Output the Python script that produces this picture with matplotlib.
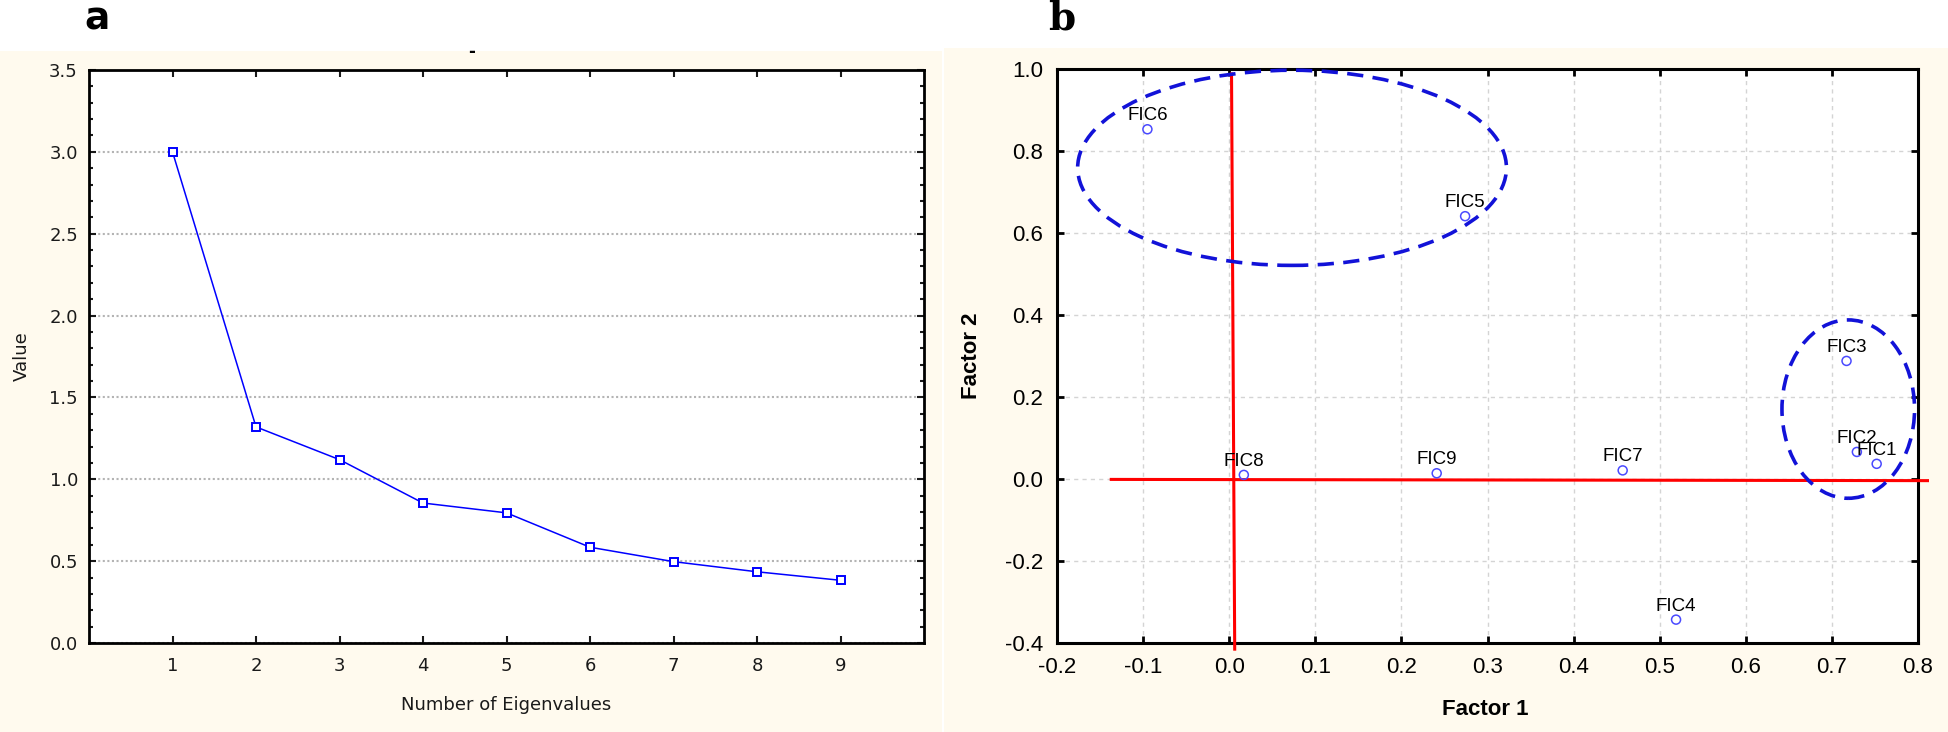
import matplotlib
matplotlib.use("Agg")
import matplotlib.pyplot as plt
from matplotlib.patches import Rectangle, Ellipse
from matplotlib.ticker import MultipleLocator

# scree plot (panel a)
eig_number = [1, 2, 3, 4, 5, 6, 7, 8, 9]
eig_value = [3.00, 1.32, 1.12, 0.855, 0.795, 0.585, 0.497, 0.435, 0.383]

# factor loadings (panel b)
names = ["FIC1", "FIC2", "FIC3", "FIC4", "FIC5", "FIC6", "FIC7", "FIC8", "FIC9"]
factor1 = [0.752, 0.729, 0.717, 0.519, 0.274, -0.095, 0.457, 0.017, 0.241]
factor2 = [0.037, 0.066, 0.288, -0.343, 0.641, 0.853, 0.021, 0.010, 0.014]

# hand-drawn red axes and group ellipses
red_vert_x = [0.0027, 0.0064]
red_vert_y = [0.988, -0.415]
red_horiz_x = [-0.137, 0.811]
red_horiz_y = [-0.001, -0.004]
groups = [((0.073, 0.759), 0.498, 0.476), ((0.719, 0.1705), 0.154, 0.435)]

W, H = 1948, 732
fig = plt.figure(figsize=(W / 100, H / 100), dpi=100)
cream = "#fffaee"


def px_box(left, top, right, bottom):
    return [left / W, 1 - bottom / H, (right - left) / W, (bottom - top) / H]


# cream panel backgrounds (behind the axes)
fig.patches.append(Rectangle((0, 0), 942 / W, 1 - 51 / H, transform=fig.transFigure,
                             facecolor=cream, edgecolor="none", zorder=-10))
fig.patches.append(Rectangle((944 / W, 0), 1 - 944 / W, 1 - 48 / H, transform=fig.transFigure,
                             facecolor=cream, edgecolor="none", zorder=-10))

# ---------- panel a ----------
ax1 = fig.add_axes(px_box(89, 70, 924, 643))
ax1.set_facecolor("white")
ax1.plot(eig_number, eig_value, color="#0000ff", lw=1.1, marker="s", ms=5.5,
         mfc="white", mec="#0000ff", mew=1.4, zorder=3)
ax1.set_xlim(0, 10)
ax1.set_ylim(0, 3.5)
ax1.set_xticks(range(1, 10))
ax1.yaxis.set_major_locator(MultipleLocator(0.5))
ax1.yaxis.set_minor_locator(MultipleLocator(0.1))
ax1.set_yticklabels([f"{v:.1f}" for v in ax1.get_yticks()])
ax1.tick_params(which="both", direction="in", top=True, right=True, width=1.5,
                labelsize=13, colors="#1a1a1a", pad=8)
ax1.tick_params(axis="x", pad=10)
ax1.tick_params(which="major", length=5)
ax1.tick_params(which="minor", length=3)
ax1.yaxis.grid(True, color="#b4b4b4", linestyle=(0, (1, 1.2)), lw=1.5)
for s in ax1.spines.values():
    s.set_linewidth(2)
ax1.set_xlabel("Number of Eigenvalues", fontsize=13, color="#1a1a1a")
ax1.xaxis.label.set_va("center")
ax1.xaxis.set_label_coords(0.5, -0.108)
ax1.set_ylabel("Value", fontsize=13, color="#1a1a1a")
ax1.yaxis.label.set_va("center")
ax1.yaxis.set_label_coords(-0.081, 0.5)

# ---------- panel b ----------
ax2 = fig.add_axes(px_box(1057, 69, 1918, 643))
ax2.set_facecolor("white")
ax2.set_xlim(-0.2, 0.8)
ax2.set_ylim(-0.4, 1.0)
ax2.xaxis.set_major_locator(MultipleLocator(0.1))
ax2.yaxis.set_major_locator(MultipleLocator(0.2))
ax2.set_xticklabels([f"{v:.1f}" for v in ax2.get_xticks()])
ax2.set_yticklabels([f"{v:.1f}" for v in ax2.get_yticks()])
ax2.grid(True, color="#d4d4d4", linestyle=(0, (3, 3)), lw=1)
ax2.tick_params(direction="in", top=True, right=True, length=5, width=2,
                labelsize=16, pad=10)
for lab in ax2.get_xticklabels() + ax2.get_yticklabels():
    lab.set_fontfamily("Liberation Sans")
for s in ax2.spines.values():
    s.set_linewidth(2.2)

ax2.scatter(factor1, factor2, s=42, facecolors="none", edgecolors="#4a4aff",
            linewidths=1.1, zorder=4)
for n, x, y in zip(names, factor1, factor2):
    ax2.annotate(n, (x, y), xytext=(0, 6.5), textcoords="offset points",
                 ha="center", va="baseline", fontsize=13.5,
                 fontfamily="Liberation Sans", zorder=5)

ax2.plot(red_vert_x, red_vert_y, color="#ff0000", lw=2.2, clip_on=False, zorder=3)
ax2.plot(red_horiz_x, red_horiz_y, color="#ff0000", lw=2.2, clip_on=False, zorder=3)

for (cx, cy), w, h in groups:
    ax2.add_patch(Ellipse((cx, cy), w, h, fill=False, edgecolor="#1212d8",
                          lw=2.6, linestyle=(0, (4.5, 2.6)), clip_on=False, zorder=3))

ax2.set_xlabel("Factor 1", fontsize=16, fontweight="bold", fontfamily="Liberation Sans")
ax2.xaxis.label.set_va("center")
ax2.xaxis.set_label_coords(0.497, -0.115)
ax2.set_ylabel("Factor 2", fontsize=16, fontweight="bold", fontfamily="Liberation Sans")
ax2.yaxis.label.set_va("center")
ax2.yaxis.set_label_coords(-0.099, 0.5)

# panel letters and the stray title dash
fig.text(97 / W, 1 - 30 / H, "a", fontsize=27, fontweight="bold", ha="center", va="baseline")
fig.text(1062 / W, 1 - 29 / H, "b", fontsize=28, fontweight="bold", fontfamily="DejaVu Serif",
         ha="center", va="baseline")
fig.text(472 / W, 1 - 52 / H, "-", fontsize=12, fontweight="bold", ha="center", va="center")

fig.savefig("out.png", dpi=100)
